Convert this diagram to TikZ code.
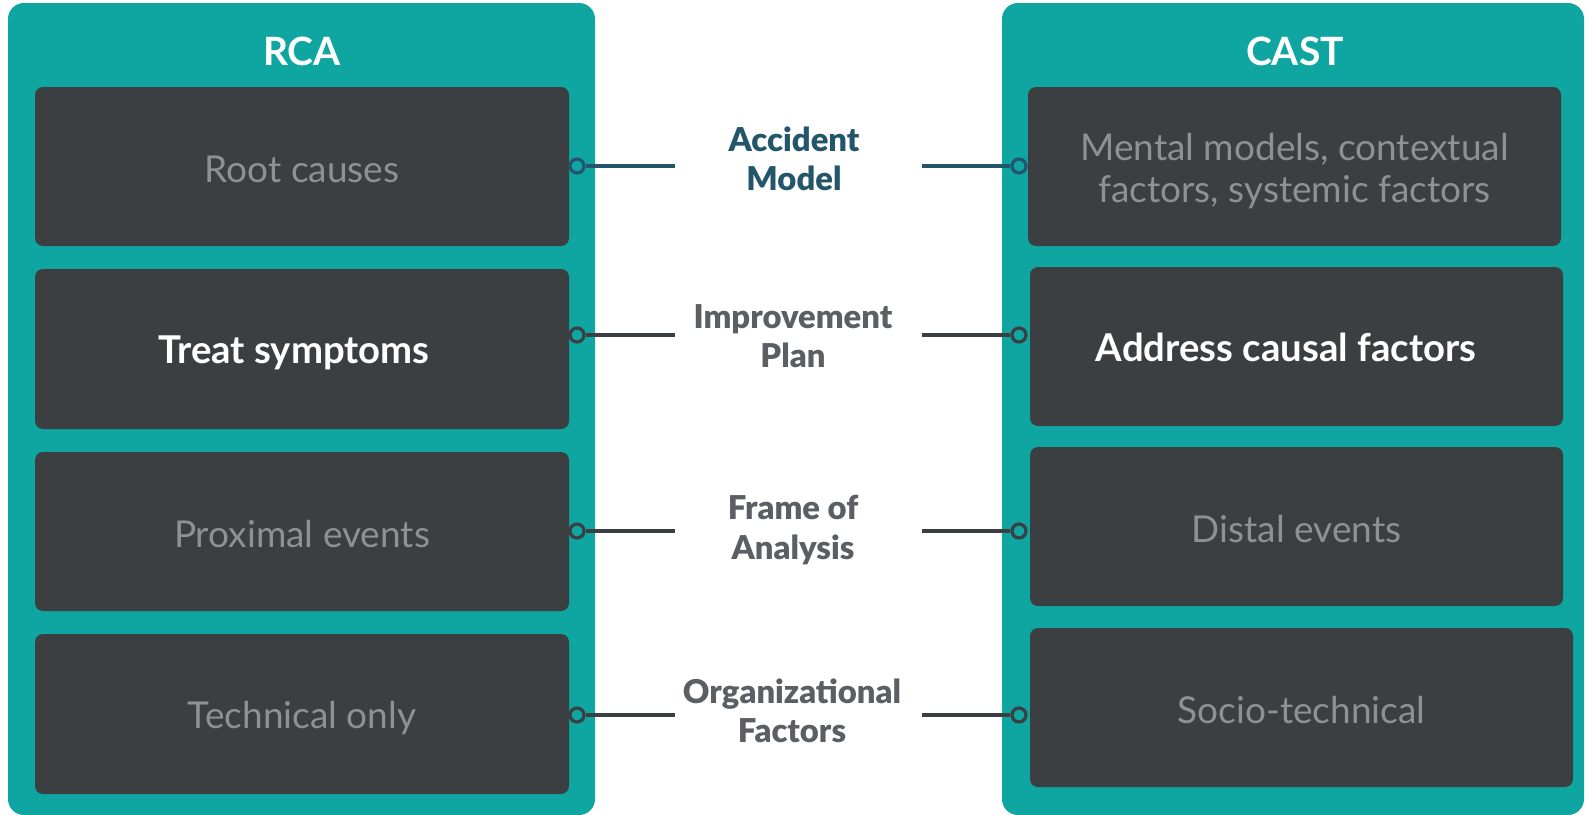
\documentclass[tikz,border=0pt]{standalone}
\usepackage{fontspec}
\setmainfont{Lato}
\newfontfamily\latoblack{Lato Black}
\definecolor{panelteal}{HTML}{0FA5A0}
\definecolor{boxgray}{HTML}{3C3F42}
\definecolor{softtext}{HTML}{8E9092}
\definecolor{labgray}{HTML}{5B5F63}
\definecolor{labblue}{HTML}{24566B}
\tikzset{
  panel/.style={fill=panelteal, rounded corners=16pt, inner sep=0pt},
  title/.style={text=white, font=\fontsize{39}{45}\selectfont\bfseries, inner sep=0pt},
  card/.style={fill=boxgray, rounded corners=8pt, inner sep=0pt},
  cardtext/.style={inner sep=0pt, align=center, text=softtext, font=\fontsize{37}{42}\selectfont},
  strong/.style={text=white, font=\fontsize{38.3}{42}\selectfont\bfseries},
  midlab/.style={align=center, inner sep=0pt, text=labgray, font=\fontsize{32.8}{39.5}\latoblack\selectfont},
  conn/.style={line width=3.5pt, draw=boxgray},
  dot/.style={circle, draw=boxgray, fill=panelteal, line width=3.2pt, minimum size=14pt, inner sep=0pt},
}
\begin{document}
\begin{tikzpicture}[x=1pt,y=-1pt]
\useasboundingbox (0,0) rectangle (1587,814);
\fill[white] (0,0) rectangle (1587,814);
% panels
\node[panel, minimum width=587pt, minimum height=812pt] (rca) at (301.5,409) {};
\node[panel, minimum width=582pt, minimum height=812pt] (cast) at (1293,409) {};
\node[title] (rcat) at (302,51) {RCA};
\node[title] (castt) at (1295,51) {CAST};
% left cards
\node[card, minimum width=534pt, minimum height=159pt] (l1) at (302,166.5) {};
\node[card, minimum width=534pt, minimum height=160pt] (l2) at (302,349) {};
\node[card, minimum width=534pt, minimum height=159pt] (l3) at (302,531.5) {};
\node[card, minimum width=534pt, minimum height=160pt] (l4) at (302,714) {};
\node[cardtext] (l1t) at (302,169.5) {Root causes};
\node[cardtext, strong] (l2t) at (294,353) {Treat symptoms};
\node[cardtext] (l3t) at (302,534) {Proximal events};
\node[cardtext] (l4t) at (302,718) {Technical only};
% right cards
\node[card, minimum width=533pt, minimum height=159pt] (r1) at (1294.5,166.5) {};
\node[card, minimum width=533pt, minimum height=159pt] (r2) at (1296.5,346.5) {};
\node[card, minimum width=533pt, minimum height=159pt] (r3) at (1296.5,526.5) {};
\node[card, minimum width=543pt, minimum height=159pt] (r4) at (1301.5,707.5) {};
\node[cardtext] (r1t) at (1294.5,171.5) {Mental models, contextual\\factors, systemic factors};
\node[cardtext, strong] (r2t) at (1286,347.5) {Address causal factors};
\node[cardtext] (r3t) at (1296.5,529) {Distal events};
\node[cardtext] (r4t) at (1301.5,710.5) {Socio-technical};
% middle labels
\node[midlab, text=labblue] (m1) at (794,159) {Accident\\Model};
\node[midlab] (m2) at (793,336) {Improvement\\Plan};
\node[midlab] (m3) at (793,530) {Frame of\\Analysis};
\node[midlab] (m4) at (792,711) {Organizational\\Factors};
% connector ends
\coordinate (a1) at (675,166); \coordinate (b1) at (922,166);
\coordinate (a2) at (675,335); \coordinate (b2) at (922,335);
\coordinate (a3) at (675,531); \coordinate (b3) at (922,531);
\coordinate (a4) at (675,715); \coordinate (b4) at (922,715);
\node[dot, draw=labblue] (p1) at (577,166) {};
\node[dot] (p2) at (577,335) {};
\node[dot] (p3) at (577,531) {};
\node[dot] (p4) at (577,715) {};
\node[dot, draw=labblue] (q1) at (1019,166) {};
\node[dot] (q2) at (1019,335) {};
\node[dot] (q3) at (1019,531) {};
\node[dot] (q4) at (1019,715) {};
\draw[conn, draw=labblue] (p1) -- (a1);
\draw[conn, draw=labblue] (b1) -- (q1);
\draw[conn] (p2) -- (a2);
\draw[conn] (b2) -- (q2);
\draw[conn] (p3) -- (a3);
\draw[conn] (b3) -- (q3);
\draw[conn] (p4) -- (a4);
\draw[conn] (b4) -- (q4);
\end{tikzpicture}
\end{document}
